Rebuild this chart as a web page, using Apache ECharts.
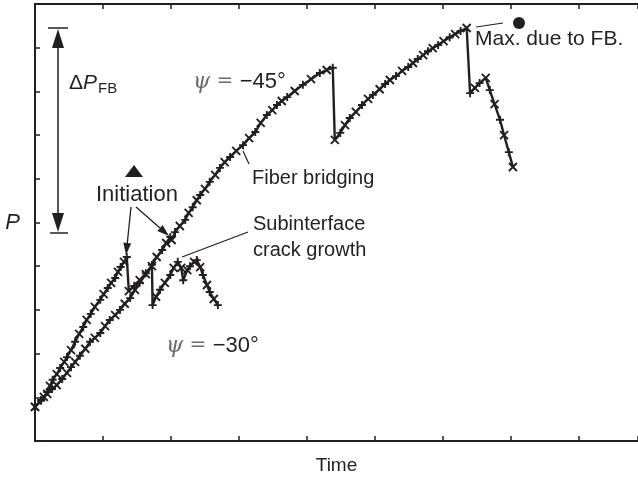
<!DOCTYPE html>
<html>
<head>
<meta charset="utf-8">
<script src="https://cdn.jsdelivr.net/npm/echarts@6/dist/echarts.min.js"></script>
<style>
  html, body { margin: 0; padding: 0; background: #fff; }
  #chart { width: 638px; height: 477px; }
</style>
</head>
<body>
<div id="chart"></div>
<script>
// load P against time, two specimens
const psi45 = [
  [0, 0.78], [0.09, 0.92], [0.18, 1.08], [0.25, 1.19], [0.32, 1.28], [0.40, 1.42], [0.47, 1.56],
  [0.53, 1.69], [0.59, 1.81], [0.66, 1.95], [0.74, 2.11], [0.81, 2.27], [0.88, 2.36], [0.96, 2.47],
  [1.03, 2.63], [1.10, 2.77], [1.18, 2.88], [1.25, 3.00], [1.32, 3.14], [1.40, 3.27], [1.47, 3.46],
  [1.54, 3.62], [1.63, 3.82], [1.72, 4.03], [1.79, 4.21], [1.87, 4.37], [1.93, 4.53], [1.99, 4.67],
  [2.01, 4.60], [2.06, 4.78], [2.13, 4.92], [2.21, 5.06], [2.26, 5.22], [2.32, 5.35], [2.38, 5.51],
  [2.43, 5.63], [2.50, 5.77], [2.57, 5.93], [2.65, 6.09], [2.72, 6.25], [2.79, 6.38], [2.87, 6.50],
  [2.96, 6.64], [3.06, 6.77], [3.15, 6.93], [3.24, 7.07], [3.32, 7.28], [3.41, 7.46], [3.49, 7.57],
  [3.56, 7.69], [3.63, 7.78], [3.71, 7.87], [3.82, 8.01], [3.94, 8.15], [4.06, 8.28], [4.19, 8.42],
  [4.29, 8.49], [4.38, 8.54], [4.41, 6.89], [4.49, 7.05], [4.56, 7.23], [4.63, 7.39], [4.72, 7.53],
  [4.81, 7.69], [4.90, 7.83], [4.97, 7.92], [5.07, 8.05], [5.15, 8.17], [5.22, 8.26], [5.31, 8.35],
  [5.40, 8.47], [5.49, 8.56], [5.56, 8.65], [5.63, 8.74], [5.71, 8.83], [5.78, 8.92], [5.85, 8.99],
  [5.93, 9.06], [6.01, 9.15], [6.10, 9.24], [6.18, 9.31], [6.26, 9.38], [6.35, 9.45], [6.40, 7.96],
  [6.47, 8.08], [6.54, 8.19], [6.63, 8.31], [6.69, 8.03], [6.76, 7.71], [6.84, 7.35], [6.90, 7.00],
  [6.97, 6.61], [7.03, 6.27]
];

const psi30 = [
  [0, 0.78], [0.09, 0.94], [0.13, 1.01], [0.18, 1.12], [0.22, 1.26], [0.26, 1.40], [0.32, 1.53],
  [0.37, 1.67], [0.43, 1.81], [0.47, 1.92], [0.53, 2.08], [0.59, 2.27], [0.65, 2.45], [0.71, 2.61],
  [0.76, 2.77], [0.82, 2.91], [0.88, 3.07], [0.96, 3.23], [1.01, 3.36], [1.07, 3.50], [1.12, 3.62],
  [1.18, 3.73], [1.22, 3.87], [1.26, 3.98], [1.31, 4.10], [1.35, 4.21], [1.38, 3.43], [1.46, 3.55],
  [1.54, 3.68], [1.63, 3.84], [1.72, 4.00], [1.73, 3.11], [1.78, 3.30], [1.84, 3.46], [1.91, 3.62],
  [1.99, 3.80], [2.04, 3.96], [2.10, 4.10], [2.15, 3.96], [2.18, 3.68], [2.24, 3.91], [2.28, 4.00],
  [2.34, 4.10], [2.38, 4.14], [2.43, 3.98], [2.47, 3.80], [2.53, 3.57], [2.57, 3.41], [2.63, 3.25],
  [2.69, 3.11]
];

const xMax = 8.87;
const yMax = 10;

const ink = "#231f20";
const crossSym = "path://M0,0L10,10M10,0L0,10";
const plusSym = "path://M5,0L5,10M0,5L10,5";

function curve(data) {
  return {
    type: "line",
    data: data,
    showAllSymbol: true,
    symbol: (v, p) => (p.dataIndex % 2 ? plusSym : crossSym),
    symbolSize: 8,
    lineStyle: { color: ink, width: 2.4 },
    itemStyle: { color: ink, borderColor: ink, borderWidth: 1.9 },
    z: 3,
  };
}

function xAxisOpt(pos) {
  return {
    type: "value",
    position: pos,
    min: 0,
    max: xMax,
    interval: 1,
    axisLine: { show: true, lineStyle: { color: ink, width: 2 } },
    axisTick: { show: true, inside: true, length: 5, lineStyle: { color: ink, width: 1.5 } },
    axisLabel: { show: false },
    splitLine: { show: false },
  };
}

let dom = document.getElementById("chart");
let myChart = echarts.init(dom, null, { renderer: "canvas" });

const txt = { fontFamily: "Liberation Sans", fill: ink };

let option = {
  animation: false,
  backgroundColor: "#fff",
  grid: { left: 35, right: 0, top: 4, bottom: 36, outerBoundsMode: "none", containLabel: false },
  xAxis: [
    Object.assign(xAxisOpt("bottom"), {
      name: "Time",
      nameLocation: "middle",
      nameGap: 15,
      nameTextStyle: { color: ink, fontSize: 19, fontFamily: "Liberation Sans" },
    }),
    xAxisOpt("top"),
  ],
  yAxis: {
    type: "value",
    min: 0,
    max: yMax,
    interval: 1,
    name: "P",
    nameLocation: "middle",
    nameRotate: 0,
    nameGap: 15,
    nameTextStyle: { color: ink, fontSize: 22, fontStyle: "italic", fontFamily: "Liberation Sans" },
    axisLine: { show: true, lineStyle: { color: ink, width: 2 } },
    axisTick: { show: true, inside: true, length: 5, lineStyle: { color: ink, width: 1.5 } },
    axisLabel: { show: false },
    splitLine: { show: false },
  },
  series: [curve(psi45), curve(psi30)],
  graphic: [
    // delta P_FB double arrow
    { type: "line", shape: { x1: 48, y1: 28, x2: 68, y2: 28 }, style: { stroke: ink, lineWidth: 1.5 } },
    { type: "line", shape: { x1: 50, y1: 233, x2: 68, y2: 233 }, style: { stroke: ink, lineWidth: 1.5 } },
    { type: "line", shape: { x1: 58, y1: 44, x2: 58, y2: 217 }, style: { stroke: ink, lineWidth: 1.5 } },
    { type: "polygon", shape: { points: [[58, 29], [52, 48], [64, 48]] }, style: { fill: ink } },
    { type: "polygon", shape: { points: [[58, 232], [52, 213], [64, 213]] }, style: { fill: ink } },
    {
      type: "text", left: 69, top: 73,
      style: {
        text: "{d|Δ}{p|P}{s|FB}",
        rich: {
          d: { fontSize: 21, fontFamily: "Liberation Sans", fill: ink },
          p: { fontSize: 21, fontFamily: "Liberation Sans", fontStyle: "italic", fill: ink },
          s: { fontSize: 15, fontFamily: "Liberation Sans", fill: ink, padding: [10, 0, 0, 1] },
        },
      },
    },
    // initiation
    { type: "polygon", shape: { points: [[125, 177], [143, 177], [134, 165]] }, style: { fill: ink } },
    { type: "text", left: 96, top: 184, style: Object.assign({ text: "Initiation", fontSize: 22 }, txt) },
    { type: "line", shape: { x1: 131, y1: 207, x2: 127.3, y2: 243 }, style: { stroke: ink, lineWidth: 1.3 } },
    { type: "polygon", shape: { points: [[126, 255], [131.2, 243.5], [123.3, 242.6]] }, style: { fill: ink } },
    { type: "line", shape: { x1: 136, y1: 207, x2: 160, y2: 228 }, style: { stroke: ink, lineWidth: 1.3 } },
    { type: "polygon", shape: { points: [[169, 236], [157.4, 231.1], [162.6, 225.1]] }, style: { fill: ink } },
    // fiber bridging
    { type: "line", shape: { x1: 243, y1: 151, x2: 249, y2: 164 }, style: { stroke: ink, lineWidth: 1.2 } },
    { type: "text", left: 252, top: 168, style: Object.assign({ text: "Fiber bridging", fontSize: 20 }, txt) },
    // subinterface crack growth
    { type: "line", shape: { x1: 182, y1: 257, x2: 248, y2: 232 }, style: { stroke: ink, lineWidth: 1.2 } },
    {
      type: "text", left: 253, top: 211,
      style: Object.assign({ text: "Subinterface\ncrack growth", fontSize: 20, lineHeight: 26 }, txt),
    },
    // max due to fiber bridging
    { type: "circle", shape: { cx: 519, cy: 23, r: 6 }, style: { fill: ink } },
    { type: "line", shape: { x1: 476, y1: 27, x2: 503, y2: 23 }, style: { stroke: ink, lineWidth: 1.2 } },
    { type: "text", left: 475, top: 29, style: Object.assign({ text: "Max. due to FB.", fontSize: 21 }, txt) },
    // psi labels
    {
      type: "text", left: 193, top: 71,
      style: {
        text: "{g|ψ}{e| = }{b|−45°}",
        rich: {
          g: { fontSize: 22, fontFamily: "DejaVu Serif", fontStyle: "italic", fill: "#6a6a6a" },
          e: { fontSize: 20, fontFamily: "DejaVu Serif", fill: "#6a6a6a" },
          b: { fontSize: 22, fontFamily: "Liberation Sans", fill: ink },
        },
      },
    },
    {
      type: "text", left: 166, top: 335,
      style: {
        text: "{g|ψ}{e| = }{b|−30°}",
        rich: {
          g: { fontSize: 22, fontFamily: "DejaVu Serif", fontStyle: "italic", fill: "#6a6a6a" },
          e: { fontSize: 20, fontFamily: "DejaVu Serif", fill: "#6a6a6a" },
          b: { fontSize: 22, fontFamily: "Liberation Sans", fill: ink },
        },
      },
    },
  ],
};

if (option && typeof option === "object") {
  myChart.setOption(option);
}
window.addEventListener("resize", myChart.resize);
</script>
</body>
</html>
